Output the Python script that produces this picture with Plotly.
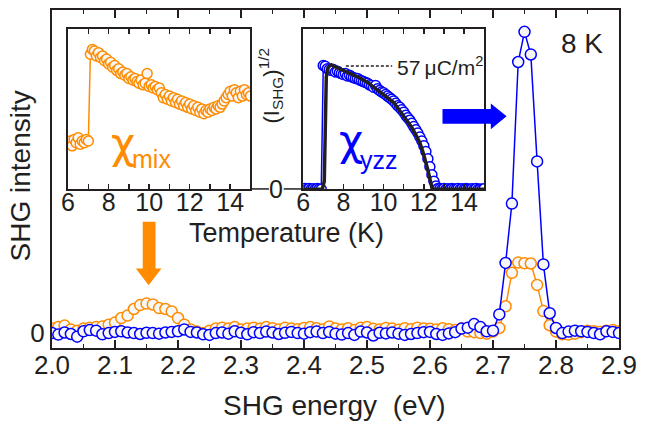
import plotly.graph_objects as go

# ---------------- data ----------------
energy = [round(2.00 + 0.01 * i, 2) for i in range(91)]  # SHG energy grid (eV)

shg_yzz = [0.000, -0.005, 0.002, -0.003, -0.012, 0.006, 0.010, 0.008, -0.004, 0.000,
           0.004, 0.006, 0.002, 0.000, -0.003, 0.001, 0.000, -0.002, 0.002, 0.004,
           0.006, 0.012, 0.004, 0.002, -0.004, -0.006, 0.000, 0.002, -0.002, 0.006,
           0.001, -0.004, 0.003, 0.000, 0.005, 0.002, -0.003, 0.001, 0.004, 0.000,
           -0.002, 0.003, 0.005, 0.000, 0.004, -0.002, -0.005, 0.000, -0.006, 0.005,
           0.002, -0.008, 0.001, -0.001, 0.002, -0.002, -0.006, -0.003, 0.000, 0.003,
           0.004, -0.003, -0.006, -0.001, 0.003, 0.015, 0.018, 0.030, 0.020, 0.006,
           0.008, 0.062, 0.233, 0.430, 0.900, 1.000, 0.925, 0.570, 0.228, 0.066,
           0.017, 0.000, 0.005, 0.008, 0.006, 0.004, 0.000, -0.004, 0.006, 0.004,
           0.000]

shg_mix = [0.015, 0.020, 0.025, 0.012, 0.008, 0.015, 0.018, 0.020, 0.022, 0.028,
           0.035, 0.050, 0.058, 0.080, 0.093, 0.098, 0.095, 0.083, 0.080, 0.072,
           0.050, 0.028, 0.012, 0.005, 0.000, 0.008, 0.015, 0.018, 0.015, 0.020,
           0.012, 0.015, 0.018, 0.014, 0.020, 0.016, 0.012, 0.018, 0.015, 0.013,
           0.017, 0.020, 0.016, 0.012, 0.022, 0.015, 0.012, 0.016, 0.010, 0.018,
           0.020, 0.014, 0.012, 0.017, 0.015, 0.011, 0.016, 0.013, 0.018, 0.015,
           0.014, 0.012, 0.016, 0.013, 0.010, 0.015, 0.005, 0.003, 0.000, -0.002,
           0.005, 0.017, 0.089, 0.200, 0.234, 0.232, 0.231, 0.160, 0.073, 0.026,
           0.005, -0.004, -0.005, -0.002, 0.003, 0.008, 0.006, 0.004, 0.008, 0.010,
           0.006]

temperature = [round(6.0 + 0.1 * i, 1) for i in range(91)]  # inset T grid (K)

chi_mix_T = [0.28, 0.30, 0.27, 0.31, 0.29, 0.32, 0.28, 0.30, 0.29, 0.31, 0.30,
             0.84, 0.87, 0.86, 0.83, 0.85, 0.82, 0.83, 0.80, 0.81, 0.78,
             0.79, 0.76, 0.77, 0.74, 0.75, 0.72, 0.73, 0.71, 0.72, 0.69,
             0.70, 0.68, 0.69, 0.67, 0.66, 0.68, 0.65, 0.66, 0.72, 0.64,
             0.65, 0.63, 0.64, 0.62, 0.63, 0.60, 0.57, 0.59, 0.56, 0.58,
             0.55, 0.57, 0.54, 0.56, 0.53, 0.55, 0.52, 0.54, 0.51, 0.53,
             0.50, 0.52, 0.49, 0.51, 0.48, 0.50, 0.47, 0.49, 0.48, 0.50,
             0.49, 0.51, 0.50, 0.52, 0.51, 0.53, 0.55, 0.57, 0.59, 0.61,
             0.58, 0.62, 0.60, 0.57, 0.61, 0.58, 0.62, 0.59, 0.60, 0.58]

chi_yzz_T = [0.000, 0.005, 0.000, 0.004, 0.000, 0.003, 0.000, 0.005, 0.002, 0.000,
             0.770, 0.765, 0.750, 0.745, 0.740, 0.745, 0.730, 0.735, 0.725, 0.720,
             0.715, 0.720, 0.705, 0.710, 0.700, 0.695, 0.690, 0.690, 0.680, 0.675,
             0.670, 0.665, 0.660, 0.650, 0.645, 0.635, 0.645, 0.625, 0.615, 0.605,
             0.600, 0.590, 0.580, 0.570, 0.560, 0.550, 0.535, 0.520, 0.510, 0.495,
             0.480, 0.460, 0.445, 0.430, 0.410, 0.390, 0.370, 0.350, 0.325, 0.300,
             0.270, 0.235, 0.190, 0.140, 0.090, 0.050, 0.020, 0.005, 0.003, 0.000,
             0.004, 0.000, 0.003, 0.000, 0.005, 0.002, 0.000, 0.004, 0.000, 0.003,
             0.000, 0.004, 0.002, 0.000, 0.003, 0.000, 0.004, 0.000, 0.002, 0.000,
             0.003]

fit_T = [6.0, 6.95, 7.05, 7.1, 7.15, 7.25, 7.4, 7.55, 8.0, 8.7, 9.2, 9.68, 10.1, 10.5,
         10.85, 11.15, 11.4, 11.64, 11.8, 11.96, 12.1, 12.2, 12.3, 12.37, 12.42, 15.0]
fit_P = [0.0, 0.0, 0.05, 0.40, 0.70, 0.76, 0.775, 0.765, 0.74, 0.70, 0.665, 0.62, 0.58, 0.54,
         0.48, 0.43, 0.385, 0.33, 0.29, 0.23, 0.17, 0.12, 0.065, 0.02, 0.0, 0.0]

x_ticks_main = [2.0, 2.1, 2.2, 2.3, 2.4, 2.5, 2.6, 2.7, 2.8, 2.9]
x_ticklabels_main = ["2.0", "2.1", "2.2", "2.3", "2.4", "2.5", "2.6", "2.7", "2.8", "2.9"]

# ---------------- styling ----------------
ORANGE = "#ff8c00"
BLUE = "#0000ff"
INK = "#231f20"
FILL = "#f7f7f7"
FONT = "Liberation Sans, Arial, Helvetica, sans-serif"
CHI_FONT = "DejaVu Sans"

W, H = 645, 424
L, R, T, B = 52, 18, 8, 76
PW, PH = W - L - R, H - T - B


def X(px):
    return (px - L) / PW


def Y(py):
    return (T + PH - py) / PH


fig = go.Figure()

# main spectra
fig.add_trace(go.Scatter(x=energy, y=shg_mix, mode="lines+markers",
                         line=dict(color=ORANGE, width=1.5),
                         marker=dict(size=11, color=FILL, line=dict(color=ORANGE, width=1.5)),
                         xaxis="x", yaxis="y", showlegend=False))
fig.add_trace(go.Scatter(x=energy, y=shg_yzz, mode="lines+markers",
                         line=dict(color=BLUE, width=1.5),
                         marker=dict(size=11, color=FILL, line=dict(color=BLUE, width=1.5)),
                         xaxis="x", yaxis="y", showlegend=False))

# inset 1 : chi_mix
fig.add_trace(go.Scatter(x=temperature, y=chi_mix_T, mode="lines+markers",
                         line=dict(color=ORANGE, width=1.5),
                         marker=dict(size=10, color=FILL, line=dict(color=ORANGE, width=1.5)),
                         xaxis="x2", yaxis="y2", showlegend=False))
# inset 2 : chi_yzz
fig.add_trace(go.Scatter(x=temperature, y=chi_yzz_T, mode="lines+markers",
                         line=dict(color=BLUE, width=1.5),
                         marker=dict(size=10, color="white", line=dict(color=BLUE, width=1.5)),
                         xaxis="x3", yaxis="y3", showlegend=False))
fig.add_trace(go.Scatter(x=fit_T, y=fit_P, mode="lines",
                         line=dict(color=INK, width=3.5),
                         xaxis="x3", yaxis="y3", showlegend=False))

axis_common = dict(showline=True, linewidth=2, linecolor=INK, showgrid=False, zeroline=False)

inset_y_dom = [Y(188.3), Y(26.7)]

fig.update_layout(
    width=W, height=H,
    margin=dict(l=L, r=R, t=T, b=B),
    paper_bgcolor="white", plot_bgcolor="white",
    font=dict(family=FONT, color=INK),
    xaxis=dict(**axis_common, domain=[0, 1], range=[2.0, 2.9], anchor="y",
               tickvals=x_ticks_main, ticktext=x_ticklabels_main, ticklabeloverflow="allow",
               ticklabelstandoff=-7,
               ticks="inside", ticklen=8, tickwidth=2, tickcolor=INK, mirror="ticks",
               minor=dict(dtick=0.05, tick0=2.0, ticks="inside", ticklen=4, tickwidth=1.5, tickcolor=INK),
               tickfont=dict(size=26, family=FONT, color=INK)),
    yaxis=dict(**axis_common, domain=[0, 1], range=[-0.0495, 1.0726], anchor="x",
               tickvals=[0], ticktext=["0"], ticks="", mirror=True,
               tickfont=dict(size=26, family=FONT, color=INK)),
    xaxis2=dict(**axis_common, domain=[X(68.3), X(253.3)], range=[6, 15], anchor="y2",
                tick0=6, dtick=2, ticks="inside", ticklen=5, tickwidth=1.5, tickcolor=INK,
                mirror="ticks", ticklabeloverflow="allow", ticklabelstandoff=-10,
                minor=dict(dtick=1, tick0=6, ticks="inside", ticklen=5, tickwidth=1.5, tickcolor=INK),
                tickfont=dict(size=25, family=FONT, color=INK)),
    yaxis2=dict(**axis_common, domain=inset_y_dom, range=[0, 1], anchor="x2",
                showticklabels=False, ticks="", mirror=True),
    xaxis3=dict(**axis_common, domain=[X(306.7), X(490.3)], range=[6, 15], anchor="y3",
                tick0=6, dtick=2, ticks="inside", ticklen=5, tickwidth=1.5, tickcolor=INK,
                mirror="ticks", ticklabeloverflow="allow", ticklabelstandoff=-10,
                minor=dict(dtick=1, tick0=6, ticks="inside", ticklen=5, tickwidth=1.5, tickcolor=INK),
                tickfont=dict(size=25, family=FONT, color=INK)),
    yaxis3=dict(**axis_common, domain=inset_y_dom, range=[0, 1], anchor="x3",
                showticklabels=False, ticks="", mirror=True),
)


def ann(text, px, py, size, color=INK, xanchor="center", yanchor="middle", angle=0, family=FONT):
    fig.add_annotation(text=text, x=X(px), y=Y(py), xref="paper", yref="paper",
                       showarrow=False, xanchor=xanchor, yanchor=yanchor, textangle=angle,
                       font=dict(size=size, family=family, color=color))


ann("SHG energy\u00a0\u00a0(eV)", 338, 406, 28)
ann("SHG intensity", 20, 175, 28, angle=-90)
ann("Temperature (K)", 290, 232, 27)
ann("8 K", 589, 42, 28)
# chi labels: Greek letter and subscript as separate texts
ann("χ", 110, 142, 42, color=ORANGE, xanchor="left", family=CHI_FONT)
ann("mix", 131, 158, 25, color=ORANGE, xanchor="left")
ann("χ", 341, 139, 42, color=BLUE, xanchor="left", family=CHI_FONT)
ann("yzz", 362, 159, 25, color=BLUE, xanchor="left")
ann("57\u2009μC/m<sup>2</sup>", 400, 64, 21, xanchor="left")
ann("(I<sub>SHG</sub>)<sup>1/2</sup>", 274, 84, 22, angle=-90)
ann("0", 279, 188, 25)

shapes = []
# zero tick between insets
shapes.append(dict(type="line", xref="paper", yref="paper", x0=X(253), x1=X(272), y0=Y(188), y1=Y(188),
                   line=dict(color=INK, width=1.5)))
shapes.append(dict(type="line", xref="paper", yref="paper", x0=X(287), x1=X(306), y0=Y(188), y1=Y(188),
                   line=dict(color=INK, width=1.5)))
# dashed marker for 57 uC/m2
shapes.append(dict(type="line", xref="paper", yref="paper", x0=X(350), x1=X(397), y0=Y(64.3), y1=Y(64.3),
                   line=dict(color=INK, width=1.5, dash="3px,2px")))


def path(pts):
    return "M " + " L ".join(f"{X(a):.5f},{Y(b):.5f}" for a, b in pts) + " Z"


# orange arrow (down)
shapes.append(dict(type="path", xref="paper", yref="paper",
                   path=path([(144, 221), (157, 221), (157, 268), (163, 268), (150, 285), (137, 268), (144, 268)]),
                   fillcolor=ORANGE, line=dict(width=0)))
# blue arrow (right)
shapes.append(dict(type="path", xref="paper", yref="paper",
                   path=path([(448, 107.5), (497, 107.5), (497, 102), (513, 115), (497, 128), (497, 122.5), (448, 122.5)]),
                   fillcolor=BLUE, line=dict(width=0)))

fig.update_layout(shapes=shapes)

fig.write_html("out.html",
               config={"displayModeBar": False, "staticPlot": True},
               post_script="document.body.style.margin='0';document.body.style.padding='0';"
                           "document.body.style.overflow='hidden';")
